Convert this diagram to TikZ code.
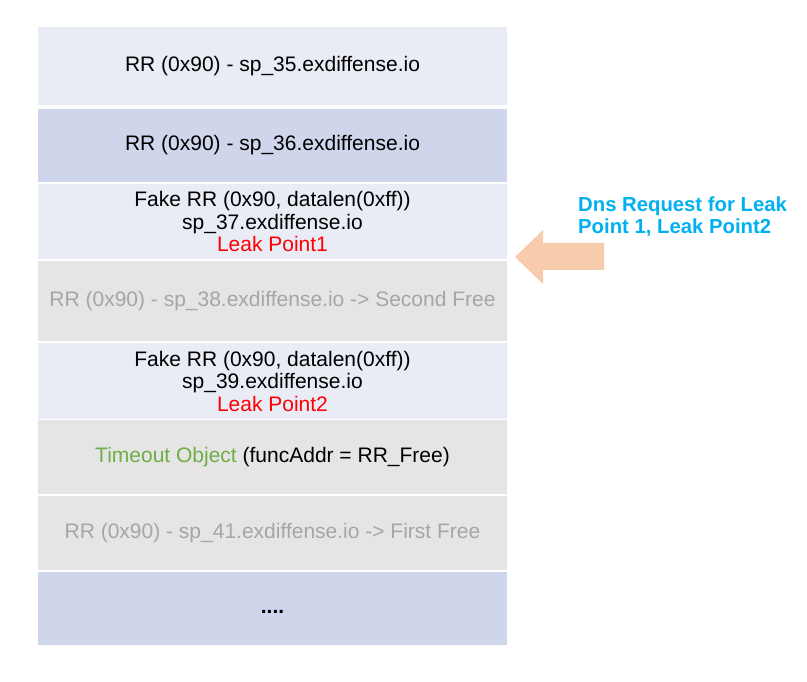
\documentclass[tikz,border=0pt]{standalone}
\usepackage{fontspec}
\setmainfont{Liberation Sans}
\definecolor{lav}{HTML}{E9EBF5}
\definecolor{lavdk}{HTML}{CFD5EA}
\definecolor{greybox}{HTML}{E5E5E5}
\definecolor{greytxt}{HTML}{A6A6A6}
\definecolor{grn}{HTML}{70AD47}
\definecolor{blu}{HTML}{00B0F0}
\definecolor{peach}{HTML}{F8CBAD}
\begin{document}
\begin{tikzpicture}[x=1pt,y=-1pt,
  box/.style={draw=none,minimum width=469pt,inner sep=0pt,outer sep=0pt,align=center,
    font=\fontsize{21}{22.5}\selectfont},
  note/.style={align=left,anchor=north west,inner sep=0pt,text=blu,
    font=\fontsize{20.3}{22}\selectfont\bfseries}]
\useasboundingbox[fill=white] (0,0) rectangle (807,682);
\node[box,fill=lav,minimum height=78pt] (b1) at (272.5,66) {RR (0x90) - sp\_35.exdiffense.io};
\node[box,fill=lavdk,minimum height=73pt] (b2) at (272.5,145.5) {RR (0x90) - sp\_36.exdiffense.io};
\node[box,fill=lav,minimum height=75pt] (b3) at (272.5,221.5) {Fake RR (0x90, datalen(0xff))\\sp\_37.exdiffense.io\\\textcolor{red}{Leak Point1}};
\node[box,fill=greybox,minimum height=80pt,text=greytxt] (b4) at (272.5,301) {RR (0x90) - sp\_38.exdiffense.io -> Second Free};
\node[box,fill=lav,minimum height=76pt] (b5) at (272.5,381) {Fake RR (0x90, datalen(0xff))\\sp\_39.exdiffense.io\\\textcolor{red}{Leak Point2}};
\node[box,fill=greybox,minimum height=74pt] (b6) at (272.5,457) {\textcolor{grn}{Timeout Object} (funcAddr = RR\_Free)};
\node[box,fill=greybox,minimum height=74pt,text=greytxt] (b7) at (272.5,533) {RR (0x90) - sp\_41.exdiffense.io -> First Free};
\node[box,fill=lavdk,minimum height=73pt] (b8) at (272.5,608.5) {\raisebox{-5pt}[0pt][0pt]{\bfseries ....}};
\fill[peach] (515,257) -- (543,230) -- (543,243) -- (604,243) -- (604,270) -- (543,270) -- (543,284) -- cycle;
\node[note] (n1) at (578,197) {Dns Request for Leak\\Point 1, Leak Point2};
\end{tikzpicture}
\end{document}
